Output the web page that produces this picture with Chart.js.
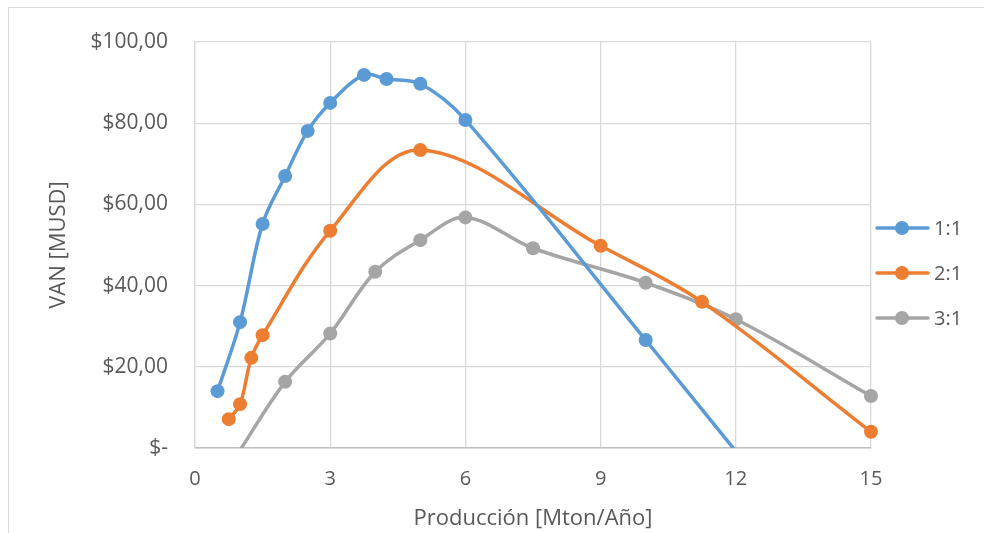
<!DOCTYPE html>
<html>
<head>
<meta charset="utf-8">
<script src="https://cdn.jsdelivr.net/npm/chart.js@4.4.1/dist/chart.umd.min.js"></script>
<style>
  html, body { margin: 0; padding: 0; background: #fff; overflow: hidden; }
  #frame { position: absolute; left: 8px; top: 7px; width: 1100px; height: 700px; border: 1.5px solid #d9d9d9; box-sizing: border-box; }
  #wrap { position: absolute; left: 0; top: 0; width: 984px; height: 533px; }
</style>
</head>
<body>
<div id="frame"></div>
<div id="wrap"><canvas id="c" width="984" height="533"></canvas></div>
<script>
// ---- data ----
const seriesLabels = ['1:1', '2:1', '3:1'];

const prod11 = [0.5, 1, 1.5, 2, 2.5, 3, 3.75, 4.25, 5, 6, 10, 12];
const van11  = [14.0, 31.0, 55.2, 67.0, 78.1, 85.0, 91.9, 90.9, 89.7, 80.8, 26.6, -0.8];

const prod21 = [0.75, 1, 1.25, 1.5, 3, 5, 9, 11.25, 15];
const van21  = [7.1, 10.8, 22.2, 27.8, 53.5, 73.4, 49.8, 36.0, 4.0];

const prod31 = [1, 2, 3, 4, 5, 6, 7.5, 10, 12, 15];
const van31  = [-0.5, 16.3, 28.2, 43.4, 51.2, 56.8, 49.2, 40.7, 31.7, 12.8];

const xTicks = [0, 3, 6, 9, 12, 15];
const yTicks = [0, 20, 40, 60, 80, 100];

const colors = ['#5B9BD5', '#ED7D31', '#A5A5A5'];
const FONT = '"Open Sans", "Liberation Sans", sans-serif';
const TEXT = '#595959';

function pts(xs, ys) { return xs.map((x, i) => ({ x: x, y: ys[i] })); }

function mkDs(i, xs, ys) {
  return {
    label: seriesLabels[i],
    data: pts(xs, ys),
    borderColor: colors[i],
    backgroundColor: colors[i],
    borderWidth: 3.5,
    pointRadius: ctx => (ctx.raw && ctx.raw.y < 0) ? 0 : 7,
    pointHoverRadius: 7,
    pointBorderWidth: 0,
    tension: 0.35,
    fill: false,
    clip: { left: 10, top: 10, right: 10, bottom: 0 }
  };
}

// custom legend drawn on the canvas (line + marker, as in the reference)
const sideLegend = {
  id: 'sideLegend',
  afterDraw(chart) {
    const ctx = chart.ctx;
    ctx.save();
    chart.data.datasets.forEach((ds, i) => {
      const y = 228 + i * 45;
      ctx.strokeStyle = ds.borderColor;
      ctx.lineWidth = 3.5;
      ctx.lineCap = 'round';
      ctx.beginPath();
      ctx.moveTo(877, y);
      ctx.lineTo(928, y);
      ctx.stroke();
      ctx.fillStyle = ds.borderColor;
      ctx.beginPath();
      ctx.arc(902, y, 7, 0, Math.PI * 2);
      ctx.fill();
      ctx.fillStyle = TEXT;
      ctx.font = '20px ' + FONT;
      ctx.textBaseline = 'middle';
      ctx.textAlign = 'left';
      ctx.fillText(ds.label, 934, y + 1);
    });
    ctx.restore();
  }
};

new Chart(document.getElementById('c'), {
  type: 'line',
  data: {
    datasets: [
      mkDs(0, prod11, van11),
      mkDs(1, prod21, van21),
      mkDs(2, prod31, van31)
    ]
  },
  options: {
    responsive: false,
    animation: false,
    layout: { padding: { top: 42, right: 113, left: 0, bottom: 0 } },
    plugins: { legend: { display: false }, tooltip: { enabled: false } },
    scales: {
      x: {
        type: 'linear',
        min: 0, max: 15,
        afterBuildTicks: s => { s.ticks = xTicks.map(v => ({ value: v })); },
        afterFit: s => { s.height = 85; },
        ticks: { color: TEXT, font: { family: FONT, size: 20 }, padding: 19, maxRotation: 0 },
        grid: { color: '#d9d9d9', lineWidth: 1.3, drawTicks: false },
        border: { color: '#bfbfbf', width: 1.5 },
        title: { display: true, text: 'Producción [Mton/Año]', color: TEXT, font: { family: FONT, size: 22 }, padding: { top: 0, bottom: 1 } }
      },
      y: {
        min: 0, max: 100,
        afterBuildTicks: s => { s.ticks = yTicks.map(v => ({ value: v })); },
        afterFit: s => { s.width = 195; },
        ticks: {
          color: TEXT, font: { family: FONT, size: 21 }, padding: 27,
          callback: v => v === 0 ? '$-' : '$' + v.toFixed(2).replace('.', ',')
        },
        grid: { color: '#d9d9d9', lineWidth: 1.3, drawTicks: false },
        border: { color: '#d9d9d9', width: 1.3 },
        title: { display: true, text: 'VAN [MUSD]', color: TEXT, font: { family: FONT, size: 22 }, padding: { top: 46, bottom: 0 } }
      }
    }
  },
  plugins: [sideLegend]
});
</script>
</body>
</html>
